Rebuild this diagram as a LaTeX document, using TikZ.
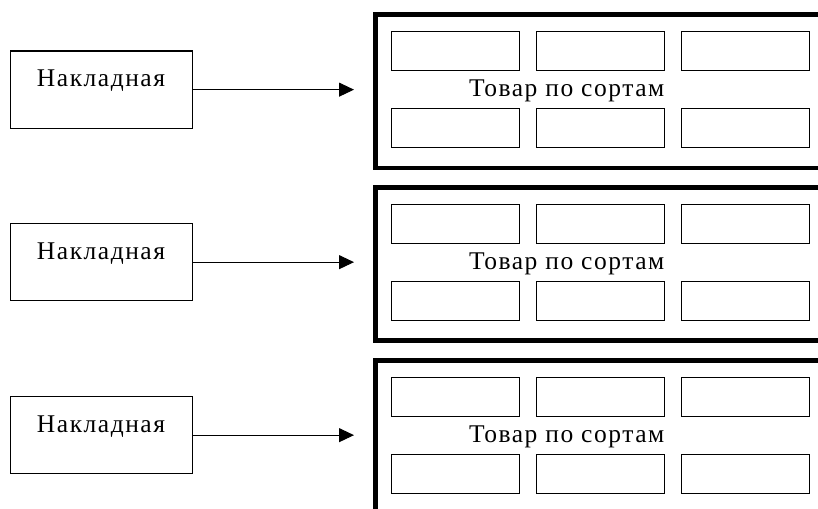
\documentclass[tikz,border=0pt]{standalone}
\usepackage{fontspec}
\setmainfont{Liberation Serif}[LetterSpace=6]
\usetikzlibrary{arrows.meta}
\begin{document}
\begin{tikzpicture}[x=1pt,y=-1pt,
  doc/.style={draw,line width=1.3pt,minimum width=182pt,minimum height=77pt,inner sep=0pt,anchor=north west},
  store/.style={draw,line width=4.6pt,minimum width=460pt,minimum height=153pt,inner sep=0pt,anchor=north west},
  cell/.style={draw,line width=1.3pt,minimum width=128pt,minimum height=39pt,inner sep=0pt,anchor=north west},
  lbl/.style={inner sep=0pt,font=\fontsize{25.5}{28}\selectfont},
  arr/.style={line width=1pt,-{Triangle[length=15pt,width=14pt]}}]
\useasboundingbox (0,0) rectangle (818,508);
\clip (0,0) rectangle (818,508);
\foreach \i/\T in {1/12.5,2/185,3/358}{
  \node[store] (b\i) at (373,\T) {};
  \node[doc] (n\i) at (10,\T+38) {};
  \node[lbl,anchor=base] (t\i) at (101,\T+74) {Накладная};
  \node[cell] (c\i a) at (391,\T+18.5) {};
  \node[cell] (c\i b) at (536,\T+18.5) {};
  \node[cell] (c\i c) at (681,\T+18.5) {};
  \node[cell] (d\i a) at (391,\T+95.5) {};
  \node[cell] (d\i b) at (536,\T+95.5) {};
  \node[cell] (d\i c) at (681,\T+95.5) {};
  \node[lbl,anchor=base west] (s\i) at (469,\T+84.5) {Товар по сортам};
  \coordinate (e\i) at ([xshift=-19pt]b\i.west |- n\i.east);
  \draw[arr] (n\i.east) -- (e\i);
}
\end{tikzpicture}
\end{document}
